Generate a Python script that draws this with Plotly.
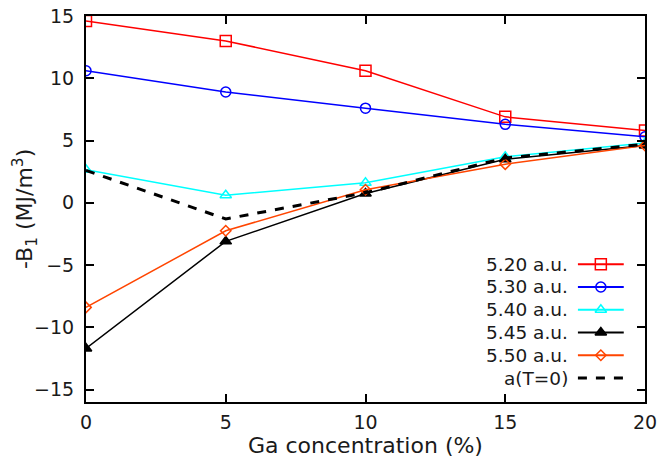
import plotly.graph_objects as go

# Ga concentration (%)
ga = [0, 5, 10, 15, 20]

# -B1 (MJ/m^3) for each lattice parameter
b_520 = [14.6, 13.0, 10.6, 6.9, 5.8]
b_530 = [10.6, 8.9, 7.6, 6.3, 5.3]
b_540 = [2.65, 0.6, 1.6, 3.7, 4.8]
b_545 = [-11.7, -3.1, 0.75, 3.5, 4.6]
b_550 = [-8.4, -2.25, 1.05, 3.1, 4.6]
b_t0 = [2.6, -1.3, 0.8, 3.6, 4.7]

labels = ["5.20 a.u.", "5.30 a.u.", "5.40 a.u.", "5.45 a.u.", "5.50 a.u.", "a(T=0)"]
colors = ["#ff0000", "#0000ff", "#00ffff", "#000000", "#ff4500", "#000000"]
symbols = ["square-open", "circle-open", "triangle-up-open", "triangle-up", "diamond-open", None]
sizes = [11, 10, 10, 10, 8, 0]
series = [b_520, b_530, b_540, b_545, b_550, b_t0]

FONT = "DejaVu Sans, Liberation Sans, sans-serif"
TXT = "#1a1a1a"

fig = go.Figure()
for name, ys, col, sym, sz in zip(labels, series, colors, symbols, sizes):
    if sym is None:
        fig.add_trace(go.Scatter(x=ga, y=ys, mode="lines", name=name,
                                 line=dict(color=col, width=3, dash="dash"),
                                 showlegend=False))
    else:
        fig.add_trace(go.Scatter(x=ga, y=ys, mode="lines+markers", name=name,
                                 line=dict(color=col, width=1.5),
                                 marker=dict(symbol=sym, size=sz, color=col,
                                             line=dict(color=col, width=1.5)),
                                 showlegend=False))

# Key drawn on an overlay axis: label on the left, sample line on the right
key_top, key_step = 0.357, 0.059
for i, (name, col, sym, sz) in enumerate(zip(labels, colors, symbols, sizes)):
    yk = key_top - i * key_step
    dash = "dash" if sym is None else "solid"
    width = 3 if sym is None else 2
    fig.add_trace(go.Scatter(x=[0.880, 0.962], y=[yk, yk], mode="lines",
                             xaxis="x2", yaxis="y2", showlegend=False, hoverinfo="skip",
                             line=dict(color=col, width=width, dash=dash)))
    if sym is not None:
        fig.add_trace(go.Scatter(x=[0.921], y=[yk], mode="markers",
                                 xaxis="x2", yaxis="y2", showlegend=False, hoverinfo="skip",
                                 marker=dict(symbol=sym, size=sz, color=col,
                                             line=dict(color=col, width=1.5))))
    fig.add_annotation(x=0.865, y=yk, xref="x2", yref="y2", text=name,
                       showarrow=False, xanchor="right", yanchor="middle",
                       font=dict(family=FONT, size=18.5, color=TXT))

# Axis titles
fig.add_annotation(x=0.5, y=-0.112, xref="paper", yref="paper",
                   xanchor="center", yanchor="middle",
                   text="Ga concentration (%)", showarrow=False,
                   font=dict(family=FONT, size=22, color=TXT))
fig.add_annotation(x=-0.109, y=0.5, xref="paper", yref="paper", textangle=-90,
                   text="-B<sub>1</sub> (MJ/m<sup>3</sup>)", showarrow=False,
                   xanchor="center", yanchor="middle",
                   font=dict(family=FONT, size=22, color=TXT))

axis_common = dict(showgrid=False, zeroline=False, showline=True, linecolor="black",
                   linewidth=2, mirror="allticks", ticks="inside", ticklen=8,
                   tickwidth=2, tickcolor="black", automargin=False,
                   tickfont=dict(family=FONT, size=19, color=TXT))

fig.update_layout(
    width=659, height=462,
    margin=dict(l=86, r=14, t=16, b=60),
    plot_bgcolor="white", paper_bgcolor="white",
    xaxis=dict(range=[0, 20], tickvals=[0, 5, 10, 15, 20], ticklabelstandoff=2,
               **axis_common),
    yaxis=dict(range=[-16, 15], tickvals=[-15, -10, -5, 0, 5, 10, 15], ticklabelstandoff=6,
               **axis_common),
    xaxis2=dict(range=[0, 1], overlaying="x", visible=False, fixedrange=True),
    yaxis2=dict(range=[0, 1], overlaying="y", visible=False, fixedrange=True),
    showlegend=False,
)

fig.write_html("out.html")
